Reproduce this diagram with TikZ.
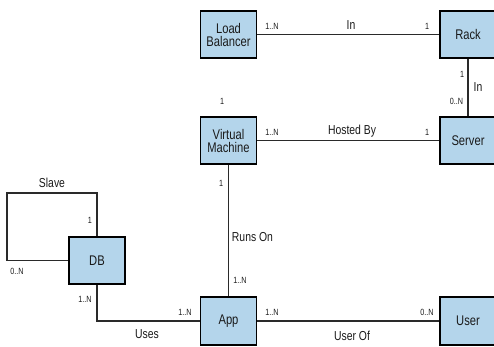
\documentclass[tikz,border=0pt]{standalone}
\usepackage{fontspec}
\setmainfont{Liberation Sans}[FakeStretch=0.8]
\definecolor{boxblue}{HTML}{B4D5EB}
\definecolor{ink}{HTML}{1A1A1A}
\definecolor{wire}{HTML}{2A2A2A}
\begin{document}
\begin{tikzpicture}[x=1pt,y=-1pt,
  ent/.style={draw=black, line width=1.4pt, fill=boxblue, minimum width=56pt, minimum height=47pt, inner sep=0pt, align=center, text=ink, font=\fontsize{14}{13}\selectfont},
  conn/.style={draw=wire, line width=1.2pt},
  mult/.style={text=ink, inner sep=0pt, font=\fontsize{9}{9}\selectfont},
  rel/.style={text=ink, inner sep=0pt, font=\fontsize{13}{13}\selectfont}]
\useasboundingbox (0,0) rectangle (494,347);
% entities
\node[ent] (lb) at (228.5,34.5) {Load\\Balancer};
\node[ent] (rack) at (468,34.5) {Rack};
\node[ent] (vm) at (228.5,140.5) {Virtual\\Machine};
\node[ent] (server) at (468,140.5) {Server};
\node[ent] (db) at (97,260.5) {DB};
\node[ent, minimum height=48pt] (app) at (228.5,321) {App};
\node[ent, minimum height=48pt] (user) at (468,321) {User};
% connectors
\coordinate (s1) at (7,193);
\draw[conn] (lb.east) -- (rack.west);
\draw[conn] (rack.south) -- (server.north);
\draw[conn] (vm.east) -- (server.west);
\draw[conn] (vm.south) -- (app.north);
\draw[conn] (db.south) |- (app.west);
\draw[conn] (app.east) -- (user.west);
\draw[conn] (db.north) |- (s1) |- (db.west);
% labels
\node[mult] (m1) at (272,26.5) {1..N};
\node[rel] (r1) at (351,25) {In};
\node[mult] (m2) at (427,26.5) {1};
\node[mult] (m3) at (462,74) {1};
\node[rel] (r2) at (478,87.5) {In};
\node[mult] (m4) at (456.5,101.5) {0..N};
\node[mult] (m5) at (222,101) {1};
\node[mult] (m6) at (272,132.5) {1..N};
\node[rel] (r3) at (352,131) {Hosted By};
\node[mult] (m7) at (427,132.5) {1};
\node[mult] (m8) at (221,183) {1};
\node[rel] (r4) at (252.5,237) {Runs On};
\node[mult] (m9) at (240,280) {1..N};
\node[rel] (r5) at (52,183) {Slave};
\node[mult] (m10) at (90,220) {1};
\node[mult] (m11) at (17,271) {0..N};
\node[mult] (m12) at (85,299) {1..N};
\node[mult] (m13) at (185,312) {1..N};
\node[rel] (r6) at (147,334) {Uses};
\node[mult] (m14) at (272,312) {1..N};
\node[mult] (m15) at (427,312) {0..N};
\node[rel] (r7) at (352,336) {User Of};
\end{tikzpicture}
\end{document}
